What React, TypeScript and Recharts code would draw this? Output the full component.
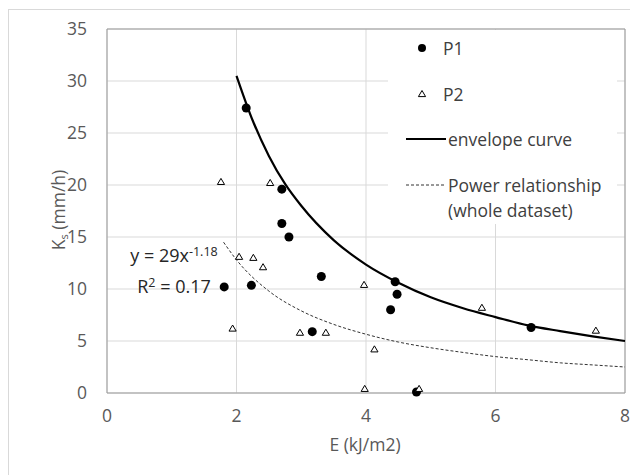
import {
  CartesianGrid,
  ComposedChart,
  Line,
  ReferenceArea,
  Scatter,
  XAxis,
  YAxis,
} from "recharts";

// measured points (E in kJ/m2, Ks in mm/h)
const P1_E = [2.15, 2.7, 2.7, 2.81, 1.81, 2.23, 3.31, 3.17, 4.45, 4.48, 4.38, 4.78, 6.55];
const P1_KS = [27.4, 19.6, 16.3, 15.0, 10.2, 10.35, 11.2, 5.9, 10.7, 9.5, 8.0, 0.1, 6.3];

const P2_E = [1.76, 2.52, 2.04, 2.26, 2.41, 1.94, 2.98, 3.38, 3.97, 4.13, 3.98, 4.82, 5.79, 7.55];
const P2_KS = [20.3, 20.2, 13.1, 13.0, 12.1, 6.2, 5.8, 5.8, 10.4, 4.2, 0.4, 0.4, 8.2, 6.0];

// curves
const ENVELOPE_E = [2, 2.25, 2.5, 2.75, 3, 3.5, 4, 4.5, 5, 5.5, 6, 6.5, 7, 7.5, 8];
const ENVELOPE_KS = [30.5, 26.2, 22.8, 20.1, 18.0, 14.7, 12.35, 10.6, 9.2, 8.15, 7.3, 6.5, 5.95, 5.45, 5.0];

const POWER_E = [1.8, 2, 2.5, 3, 3.5, 4, 4.5, 5, 5.5, 6, 6.5, 7, 7.5, 8];
const POWER_KS = [14.5, 12.8, 9.8, 7.9, 6.6, 5.65, 4.9, 4.35, 3.9, 3.5, 3.2, 2.9, 2.7, 2.5];

const X_TICKS = [0, 2, 4, 6, 8];
const Y_TICKS = [0, 5, 10, 15, 20, 25, 30, 35];

const LEGEND_LABELS = ["P1", "P2", "envelope curve", "Power relationship", "(whole dataset)"];

const FONT = "'Open Sans', 'Noto Sans', sans-serif";
const TICK_COLOR = "#595959";

const zip = (xs: number[], ys: number[]) => xs.map((e, i) => ({ e, ks: ys[i] }));

const p1 = zip(P1_E, P1_KS);
const p2 = zip(P2_E, P2_KS);
const envelope = zip(ENVELOPE_E, ENVELOPE_KS);
const power = zip(POWER_E, POWER_KS);

function Dot(props: any) {
  const { cx, cy } = props;
  if (cx == null || cy == null) return null;
  return <circle cx={cx} cy={cy} r={4.5} fill="#000" />;
}

function Triangle(props: any) {
  const { cx, cy } = props;
  if (cx == null || cy == null) return null;
  return (
    <path
      d={`M${cx},${cy - 3.5} L${cx + 3.6},${cy + 2.6} L${cx - 3.6},${cy + 2.6} Z`}
      fill="#fff"
      stroke="#000"
      strokeWidth={1}
    />
  );
}

function ChartLegend() {
  const text: React.CSSProperties = {
    position: "absolute",
    left: 60,
    fontSize: 17.5,
    color: "#404040",
    lineHeight: "24px",
    whiteSpace: "nowrap",
  };
  return (
    <div
      style={{
        position: "absolute",
        left: 380,
        top: 22,
        width: 229,
        height: 194,
        background: "#fff",
        fontFamily: FONT,
      }}
    >
      <svg width={60} height={194} style={{ position: "absolute", left: 0, top: 0 }}>
        <circle cx={34} cy={18} r={4} fill="#000" />
        <path d="M34,60.5 L37.6,66.6 L30.4,66.6 Z" fill="#fff" stroke="#000" />
        <line x1={18} x2={58} y1={109} y2={109} stroke="#000" strokeWidth={2.2} />
        <line x1={18} x2={58} y1={155} y2={155} stroke="#333" strokeWidth={1} strokeDasharray="3 2" />
      </svg>
      <div style={{ ...text, left: 55, top: 6 }}>{LEGEND_LABELS[0]}</div>
      <div style={{ ...text, left: 55, top: 52 }}>{LEGEND_LABELS[1]}</div>
      <div style={{ ...text, top: 97 }}>{LEGEND_LABELS[2]}</div>
      <div style={{ ...text, top: 143 }}>{LEGEND_LABELS[3]}</div>
      <div style={{ ...text, top: 168 }}>{LEGEND_LABELS[4]}</div>
    </div>
  );
}

export default function App() {
  return (
    <div style={{ position: "relative", width: 630, height: 467, overflow: "hidden", fontFamily: FONT }}>
      <div
        style={{
          position: "absolute",
          left: 0,
          top: 1,
          width: 700,
          height: 600,
          border: "1px solid #d9d9d9",
        }}
      />
      <ComposedChart width={630} height={467} margin={{ top: 21, right: 13, bottom: 32, left: 0 }}>
        <CartesianGrid stroke="#d9d9d9" strokeWidth={1} />
        <XAxis
          type="number"
          dataKey="e"
          domain={[0, 8]}
          ticks={X_TICKS}
          height={50}
          axisLine={false}
          tickLine={false}
          tickSize={0}
          tickMargin={17}
          tick={{ fill: TICK_COLOR, fontSize: 17.5, fontFamily: FONT }}
        />
        <YAxis
          type="number"
          dataKey="ks"
          domain={[0, 35]}
          ticks={Y_TICKS}
          width={99}
          axisLine={false}
          tickLine={false}
          tickSize={0}
          tickMargin={20}
          tick={{ fill: TICK_COLOR, fontSize: 17.5, fontFamily: FONT }}
        />
        <ReferenceArea x1={0} x2={8} y1={0} y2={35} fill="none" stroke="#9a9a9a" strokeWidth={1} />
        <Line
          data={power}
          dataKey="ks"
          type="monotone"
          stroke="#333"
          strokeWidth={1}
          strokeDasharray="3 2"
          dot={false}
          isAnimationActive={false}
        />
        <Line
          data={envelope}
          dataKey="ks"
          type="monotone"
          stroke="#000"
          strokeWidth={2.2}
          dot={false}
          isAnimationActive={false}
        />
        <Scatter data={p1} shape={<Dot />} isAnimationActive={false} />
        <Scatter data={p2} shape={<Triangle />} isAnimationActive={false} />
      </ComposedChart>

      <ChartLegend />

      <div
        style={{
          position: "absolute",
          left: 96,
          top: 230,
          width: 140,
          textAlign: "center",
          fontSize: 18,
          lineHeight: "27px",
          color: "#262626",
        }}
      >
        <div>
          y = 29x<sup style={{ fontSize: 12.5, verticalAlign: "6px" }}>-1.18</sup>
        </div>
        <div>
          R<sup style={{ fontSize: 12.5, verticalAlign: "6px" }}>2</sup> = 0.17
        </div>
      </div>

      <div
        style={{
          position: "absolute",
          left: 357,
          top: 436,
          transform: "translate(-50%, -50%)",
          fontSize: 17.5,
          color: TICK_COLOR,
          whiteSpace: "nowrap",
        }}
      >
        E (kJ/m2)
      </div>
      <div
        style={{
          position: "absolute",
          left: 50,
          top: 202,
          transform: "translate(-50%, -50%) rotate(-90deg)",
          fontSize: 17.5,
          color: TICK_COLOR,
          whiteSpace: "nowrap",
        }}
      >
        K<sub style={{ fontSize: 11, verticalAlign: "-3px" }}>s</sub> (mm/h)
      </div>
    </div>
  );
}
